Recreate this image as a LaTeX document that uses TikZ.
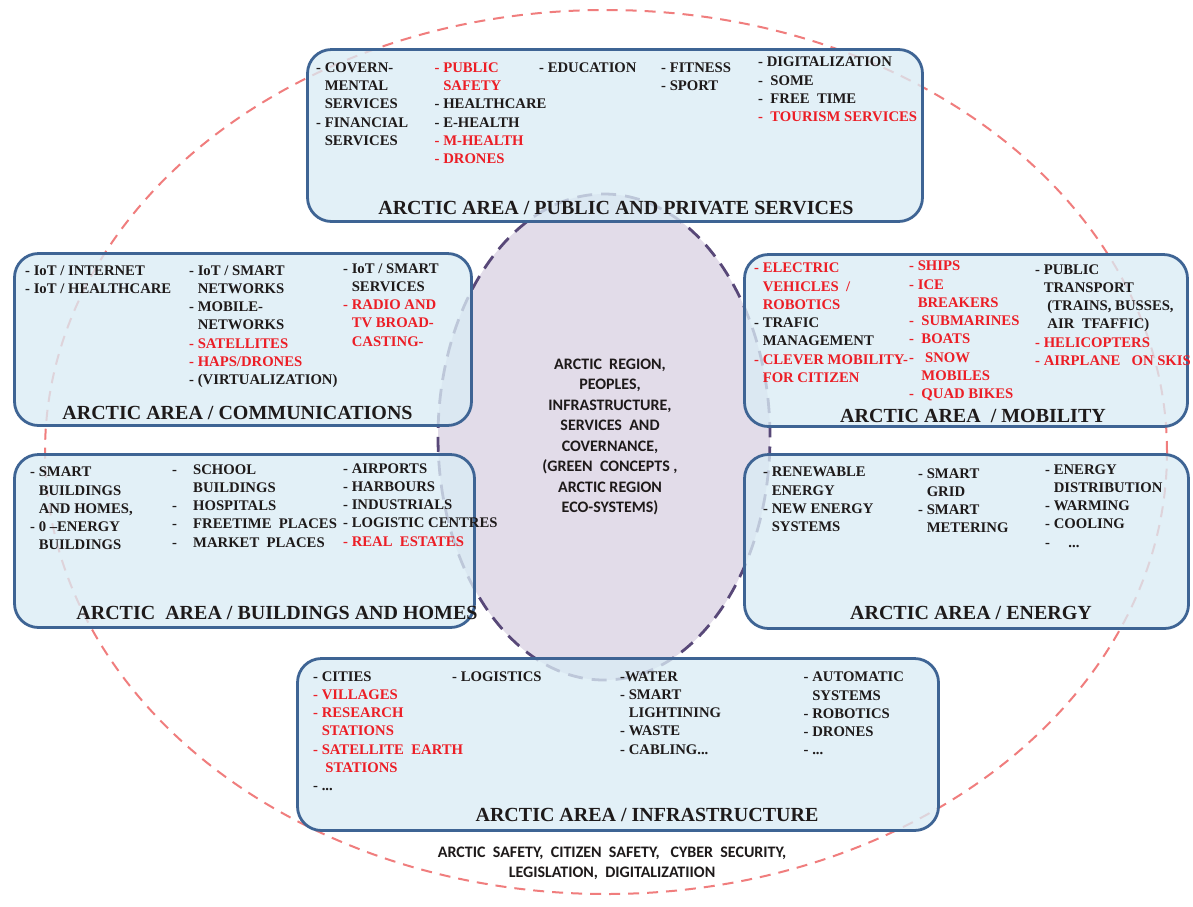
\documentclass[tikz,border=0pt]{standalone}
\usepackage{fontspec}
\usetikzlibrary{shapes.geometric}
\setmainfont{Liberation Serif}
\newfontfamily\calib{Carlito}
\definecolor{boxblue}{RGB}{62,100,148}
\definecolor{boxfill}{RGB}{218,236,245}
\definecolor{corefill}{RGB}{226,220,233}
\definecolor{coreline}{RGB}{88,72,120}
\definecolor{ringred}{RGB}{240,125,125}
\definecolor{ink}{RGB}{30,26,26}
\definecolor{arcred}{RGB}{236,30,38}
% one text line of a column, black or red
\newcommand\Li[1]{\hbox{#1}}
\newcommand\Lr[1]{\hbox{\color{arcred}#1}}
\newcommand\ind{\hphantom{-}\ }
\newcommand\dsh[1]{\makebox[#1][l]{-}}
\tikzset{
  area/.style={draw=boxblue, line width=2.8pt, rounded corners=24pt,
    fill=boxfill, fill opacity=0.78, inner sep=0pt},
  col/.style={anchor=base west, inner sep=0pt, text=ink,
    font=\fontsize{14.7}{18.3}\selectfont\bfseries},
  areatitle/.style={inner sep=0pt, text=ink, anchor=center,
    font=\fontsize{20}{22}\selectfont\bfseries},
  core/.style={ellipse, draw=coreline, fill=corefill, line width=2.8pt,
    dash pattern=on 15pt off 9pt, inner sep=0pt},
  ring/.style={draw=ringred, line width=2pt, dash pattern=on 11pt off 8pt},
  coretext/.style={inner sep=0pt, align=center, text=ink,
    font=\calib\bfseries\fontsize{16}{20.5}\selectfont},
}
\begin{document}
\begin{tikzpicture}[x=1pt,y=-1pt]
\useasboundingbox (0,0) rectangle (1193,906);
\fill[white] (0,0) rectangle (1193,906);

% outer dashed ring and the central region
\draw[ring] (606,452) ellipse [x radius=561pt, y radius=442pt];
\node[core, minimum width=332pt, minimum height=486pt] (core) at (604,437) {};

% the six area boxes
\node[area, minimum width=615pt, minimum height=172pt] (pub)   at (615,135.5) {};
\node[area, minimum width=457pt, minimum height=172pt] (comm)  at (243,339.5) {};
\node[area, minimum width=443pt, minimum height=172pt] (mob)   at (966,340.5) {};
\node[area, minimum width=460pt, minimum height=173pt] (build) at (244.5,541) {};
\node[area, minimum width=444pt, minimum height=174pt] (energy) at (966.5,541.5) {};
\node[area, minimum width=641pt, minimum height=172pt] (infra) at (618,744.5) {};

% central text
\node[coretext] (coretxt) at (610,437) {ARCTIC\ \ REGION,\\ PEOPLES,\\ INFRASTRUCTURE,\\ SERVICES\ \ AND\\ COVERNANCE,\\ (GREEN\ \ CONCEPTS ,\\ ARCTIC REGION\\ ECO-SYSTEMS)};

% public and private services
\node[col] (pub1) at (316,72.3) {\vtop{\Li{- COVERN-}\Li{\ind MENTAL}\Li{\ind SERVICES}\Li{- FINANCIAL}\Li{\ind SERVICES}}};
\node[col] (pub2) at (434.5,72.3) {\vtop{\Lr{- PUBLIC}\Lr{\ind SAFETY}\Li{- HEALTHCARE}\Li{- E-HEALTH}\Lr{- M-HEALTH}\Lr{- DRONES}}};
\node[col] (pub3) at (539,72.3) {\vtop{\Li{- EDUCATION}}};
\node[col] (pub4) at (661,72.3) {\vtop{\Li{- FITNESS}\Li{- SPORT}}};
\node[col] (pub5) at (758,66.7) {\vtop{\Li{- DIGITALIZATION}\Li{-\ \ SOME}\Li{-\ \ FREE\ \ TIME}\Lr{-\ \ TOURISM SERVICES}}};
\node[areatitle] (pubt) at (616,208) {ARCTIC AREA / PUBLIC AND PRIVATE SERVICES};

% communications
\node[col] (comm1) at (25,275) {\vtop{\Li{- IoT / INTERNET}\Li{- IoT / HEALTHCARE}}};
\node[col] (comm2) at (189,275) {\vtop{\Li{- IoT / SMART}\Li{\ind NETWORKS}\Li{- MOBILE-}\Li{\ind NETWORKS}\Lr{- SATELLITES}\Lr{- HAPS/DRONES}\Li{- (VIRTUALIZATION)}}};
\node[col] (comm3) at (343,273) {\vtop{\Li{- IoT / SMART}\Li{\ind SERVICES}\Lr{- RADIO AND}\Lr{\ind TV BROAD-}\Lr{\ind CASTING-}}};
\node[areatitle] (commt) at (237.5,413) {ARCTIC AREA / COMMUNICATIONS};

% mobility
\node[col] (mob1) at (754,272.7) {\vtop{\Lr{- ELECTRIC}\Lr{\ind VEHICLES\ \ /}\Lr{\ind ROBOTICS}\Li{- TRAFIC}\Li{\ind MANAGEMENT}\Lr{- CLEVER MOBILITY-}\Lr{\ind FOR CITIZEN}}};
\node[col] (mob2) at (909,270.7) {\vtop{\Lr{- SHIPS}\Lr{- ICE}\Lr{\ind BREAKERS}\Lr{-\ \ SUBMARINES}\Lr{-\ \ BOATS}\Lr{-\ \ \ SNOW}\Lr{\ind\ MOBILES}\Lr{-\ \ QUAD BIKES}}};
\node[col] (mob3) at (1035,274) {\vtop{\Li{- PUBLIC}\Li{\ind TRANSPORT}\Li{\ind\ (TRAINS, BUSSES,}\Li{\ind\ AIR\ \ TFAFFIC)}\Lr{- HELICOPTERS}\Lr{- AIRPLANE\ \ \ ON SKIS}}};
\node[areatitle] (mobt) at (973,415.7) {ARCTIC AREA\ \ / MOBILITY};

% buildings and homes
\node[col] (build1) at (30,476.7) {\vtop{\Li{- SMART}\Li{\ind BUILDINGS}\Li{\ind AND HOMES,}\Li{- 0 --ENERGY}\Li{\ind BUILDINGS}}};
\node[col] (build2) at (172,474) {\vtop{\Li{\dsh{21pt}SCHOOL}\Li{\hspace{21pt}BUILDINGS}\Li{\dsh{21pt}HOSPITALS}\Li{\dsh{21pt}FREETIME\ \ PLACES}\Li{\dsh{21pt}MARKET\ \ PLACES}}};
\node[col] (build3) at (343,473) {\vtop{\Li{- AIRPORTS}\Li{- HARBOURS}\Li{-\ INDUSTRIALS}\Li{-\ LOGISTIC CENTRES}\Lr{-\ REAL\ \ ESTATES}}};
\node[areatitle] (buildt) at (277,613) {ARCTIC\ \ AREA / BUILDINGS AND HOMES};

% energy
\node[col] (en1) at (763,476.7) {\vtop{\Li{- RENEWABLE}\Li{\ind ENERGY}\Li{- NEW ENERGY}\Li{\ind SYSTEMS}}};
\node[col] (en2) at (918,478) {\vtop{\Li{- SMART}\Li{\ind GRID}\Li{- SMART}\Li{\ind METERING}}};
\node[col] (en3) at (1045,474) {\vtop{\Li{- ENERGY}\Li{\ind DISTRIBUTION}\Li{- WARMING}\Li{- COOLING}\Li{-\ \ \ \ \ ...}}};
\node[areatitle] (ent) at (971,613) {ARCTIC AREA / ENERGY};

% infrastructure
\node[col] (inf1) at (313,681) {\vtop{\Li{- CITIES}\Lr{- VILLAGES}\Lr{- RESEARCH}\Lr{\ind STATIONS}\Lr{- SATELLITE\ \ EARTH}\Lr{\ind\ STATIONS}\Li{- ...}}};
\node[col] (inf2) at (452,681) {\vtop{\Li{- LOGISTICS}}};
\node[col] (inf3) at (620,681) {\vtop{\Li{-WATER}\Li{- SMART}\Li{\ind LIGHTINING}\Li{- WASTE}\Li{- CABLING...}}};
\node[col] (inf4) at (803.5,681.7) {\vtop{\Li{- AUTOMATIC}\Li{\ind SYSTEMS}\Li{- ROBOTICS}\Li{- DRONES}\Li{- ...}}};
\node[areatitle] (inft) at (647,815) {ARCTIC AREA / INFRASTRUCTURE};

% cross-cutting themes
\node[coretext, font=\calib\bfseries\fontsize{16}{20}\selectfont] (themes) at (612,863.5) {ARCTIC\ \ SAFETY,\ \ CITIZEN\ \ SAFETY,\ \ \ CYBER\ \ SECURITY,\\ LEGISLATION,\ \ DIGITALIZATIION};
\end{tikzpicture}
\end{document}
